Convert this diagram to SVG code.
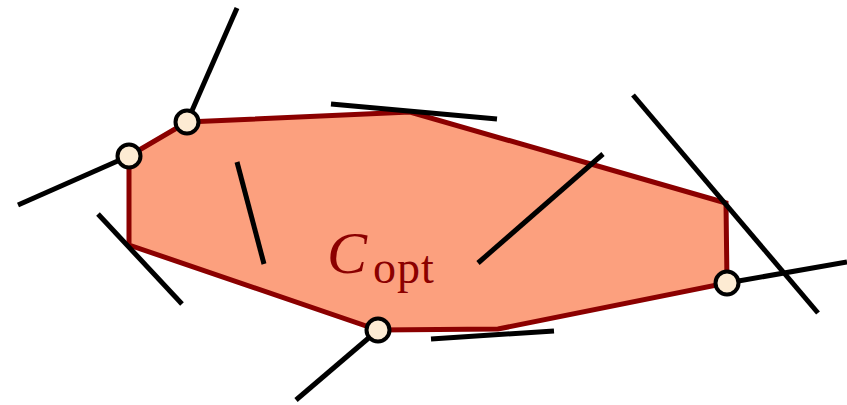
<svg xmlns="http://www.w3.org/2000/svg" width="847" height="405" viewBox="0 0 847 405">
<style>
.region{fill:#FCA07E;stroke:#8B0000;stroke-width:5;stroke-linejoin:miter}
.seg{stroke:#000;stroke-width:5;fill:none;stroke-linecap:butt}
.pt{fill:#FDEBD3;stroke:#000;stroke-width:4}
.lbl{fill:#8B0000;font-family:"Liberation Serif",serif}
</style>
<rect width="847" height="405" fill="#fff"/>
<g id="region-copt">
<polygon class="region" points="129,156 187,122 410,112 726,203 727,283 498,329 378,330 129,245"/>
<text class="lbl" x="327" y="273" font-size="60" font-style="italic">C</text>
<text class="lbl" x="373" y="283" font-size="46" letter-spacing="1">opt</text>
</g>
<g id="connectors">
<line class="seg" x1="237" y1="8" x2="187" y2="122"/>
<line class="seg" x1="18" y1="205" x2="129" y2="156"/>
<line class="seg" x1="237" y1="162" x2="264" y2="264"/>
<line class="seg" x1="98" y1="214" x2="182" y2="304"/>
<line class="seg" x1="331" y1="104" x2="497" y2="119"/>
<line class="seg" x1="603" y1="154" x2="478" y2="263"/>
<line class="seg" x1="633" y1="95" x2="818" y2="313"/>
<line class="seg" x1="727" y1="283" x2="847" y2="262"/>
<line class="seg" x1="378" y1="330" x2="296" y2="400"/>
<line class="seg" x1="431" y1="339" x2="554" y2="331"/>
</g>
<g id="pt-1"><circle class="pt" cx="187" cy="122" r="11.5"/></g>
<g id="pt-2"><circle class="pt" cx="129" cy="156" r="11.5"/></g>
<g id="pt-3"><circle class="pt" cx="727" cy="283" r="11.5"/></g>
<g id="pt-4"><circle class="pt" cx="378" cy="330" r="11.5"/></g>
</svg>
